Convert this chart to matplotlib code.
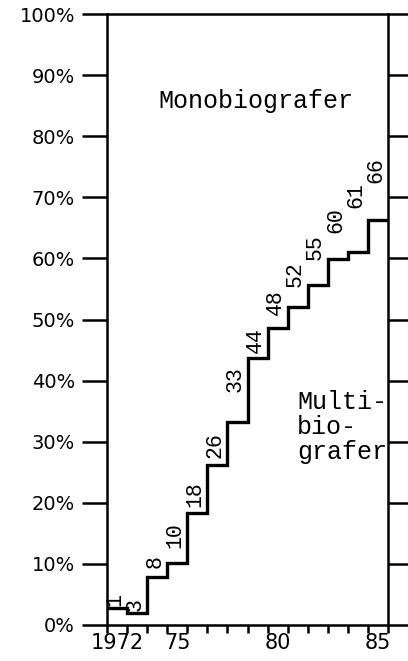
import matplotlib.pyplot as plt
import numpy as np

# År (en trappa per år) och andel monobiografer i procent
years = [1972, 1973, 1974, 1975, 1976, 1977, 1978, 1979, 1980, 1981, 1982, 1983, 1984, 1985]
pct = [2.8, 2.0, 7.9, 10.1, 18.3, 26.2, 33.2, 43.7, 48.6, 52.0, 55.6, 59.9, 61.0, 66.3]
labels = ["1", "3", "8", "10", "18", "26", "33", "44", "48", "52", "55", "60", "61", "66"]

y_ticks = list(range(0, 101, 10))
y_ticklabels = [f"{v}%" for v in y_ticks]
x_ticks = [1972, 1975, 1980, 1985]
x_ticklabels = ["1972", "75", "80", "85"]

# hur hoegt ovanfoer trappsteget varje siffra staar (procentenheter)
label_pad = [0.3, 0.3, 1.4, 2.5, 1.0, 1.1, 4.9, 0.8, 2.1, 3.3, 4.1, 4.3, 7.3, 6.1]

mono = "Liberation Mono"

fig = plt.figure(figsize=(4.08, 6.61), dpi=100)
ax = fig.add_axes([107 / 408, 1 - 625 / 661, 281 / 408, 611 / 661])

edges = np.append(np.array(years) - 0.5, years[-1] + 0.5)
ax.stairs(pct, edges, baseline=None, color="black", lw=2.4)

for yr, v, lab, pad in zip(years, pct, labels, label_pad):
    ax.text(yr - 0.12, v + pad, lab, rotation=90, ha="center", va="bottom",
            fontsize=15.5, family=mono)

ax.set_xlim(edges[0], edges[-1])
ax.set_ylim(0, 100)

for s in ax.spines.values():
    s.set_linewidth(1.8)

ax.set_yticks(y_ticks)
ax.set_yticklabels(y_ticklabels, fontsize=14)
ax.tick_params(axis="y", length=18, width=1.8, pad=5)

ax.set_xticks(x_ticks)
ax.set_xticklabels(x_ticklabels, fontsize=15)
ax.set_xticks(edges, minor=True)
ax.tick_params(axis="x", which="major", length=0, pad=6)
ax.tick_params(axis="x", which="minor", length=6, width=1.8)

# kortare streck paa hoeger sida
ax2 = ax.twinx()
ax2.set_ylim(0, 100)
ax2.set_yticks(y_ticks)
ax2.tick_params(axis="y", length=14.5, width=1.8, labelright=False)
for s in ax2.spines.values():
    s.set_visible(False)

ax.text(0.53, 0.846, "Monobiografer", transform=ax.transAxes, ha="center",
        va="baseline", fontsize=18, family=mono)
ax.text(0.676, 0.385, "Multi-\nbio-\ngrafer", transform=ax.transAxes, ha="left",
        va="top", fontsize=18, family=mono, linespacing=1.05)

fig.savefig("out.png", dpi=100)
